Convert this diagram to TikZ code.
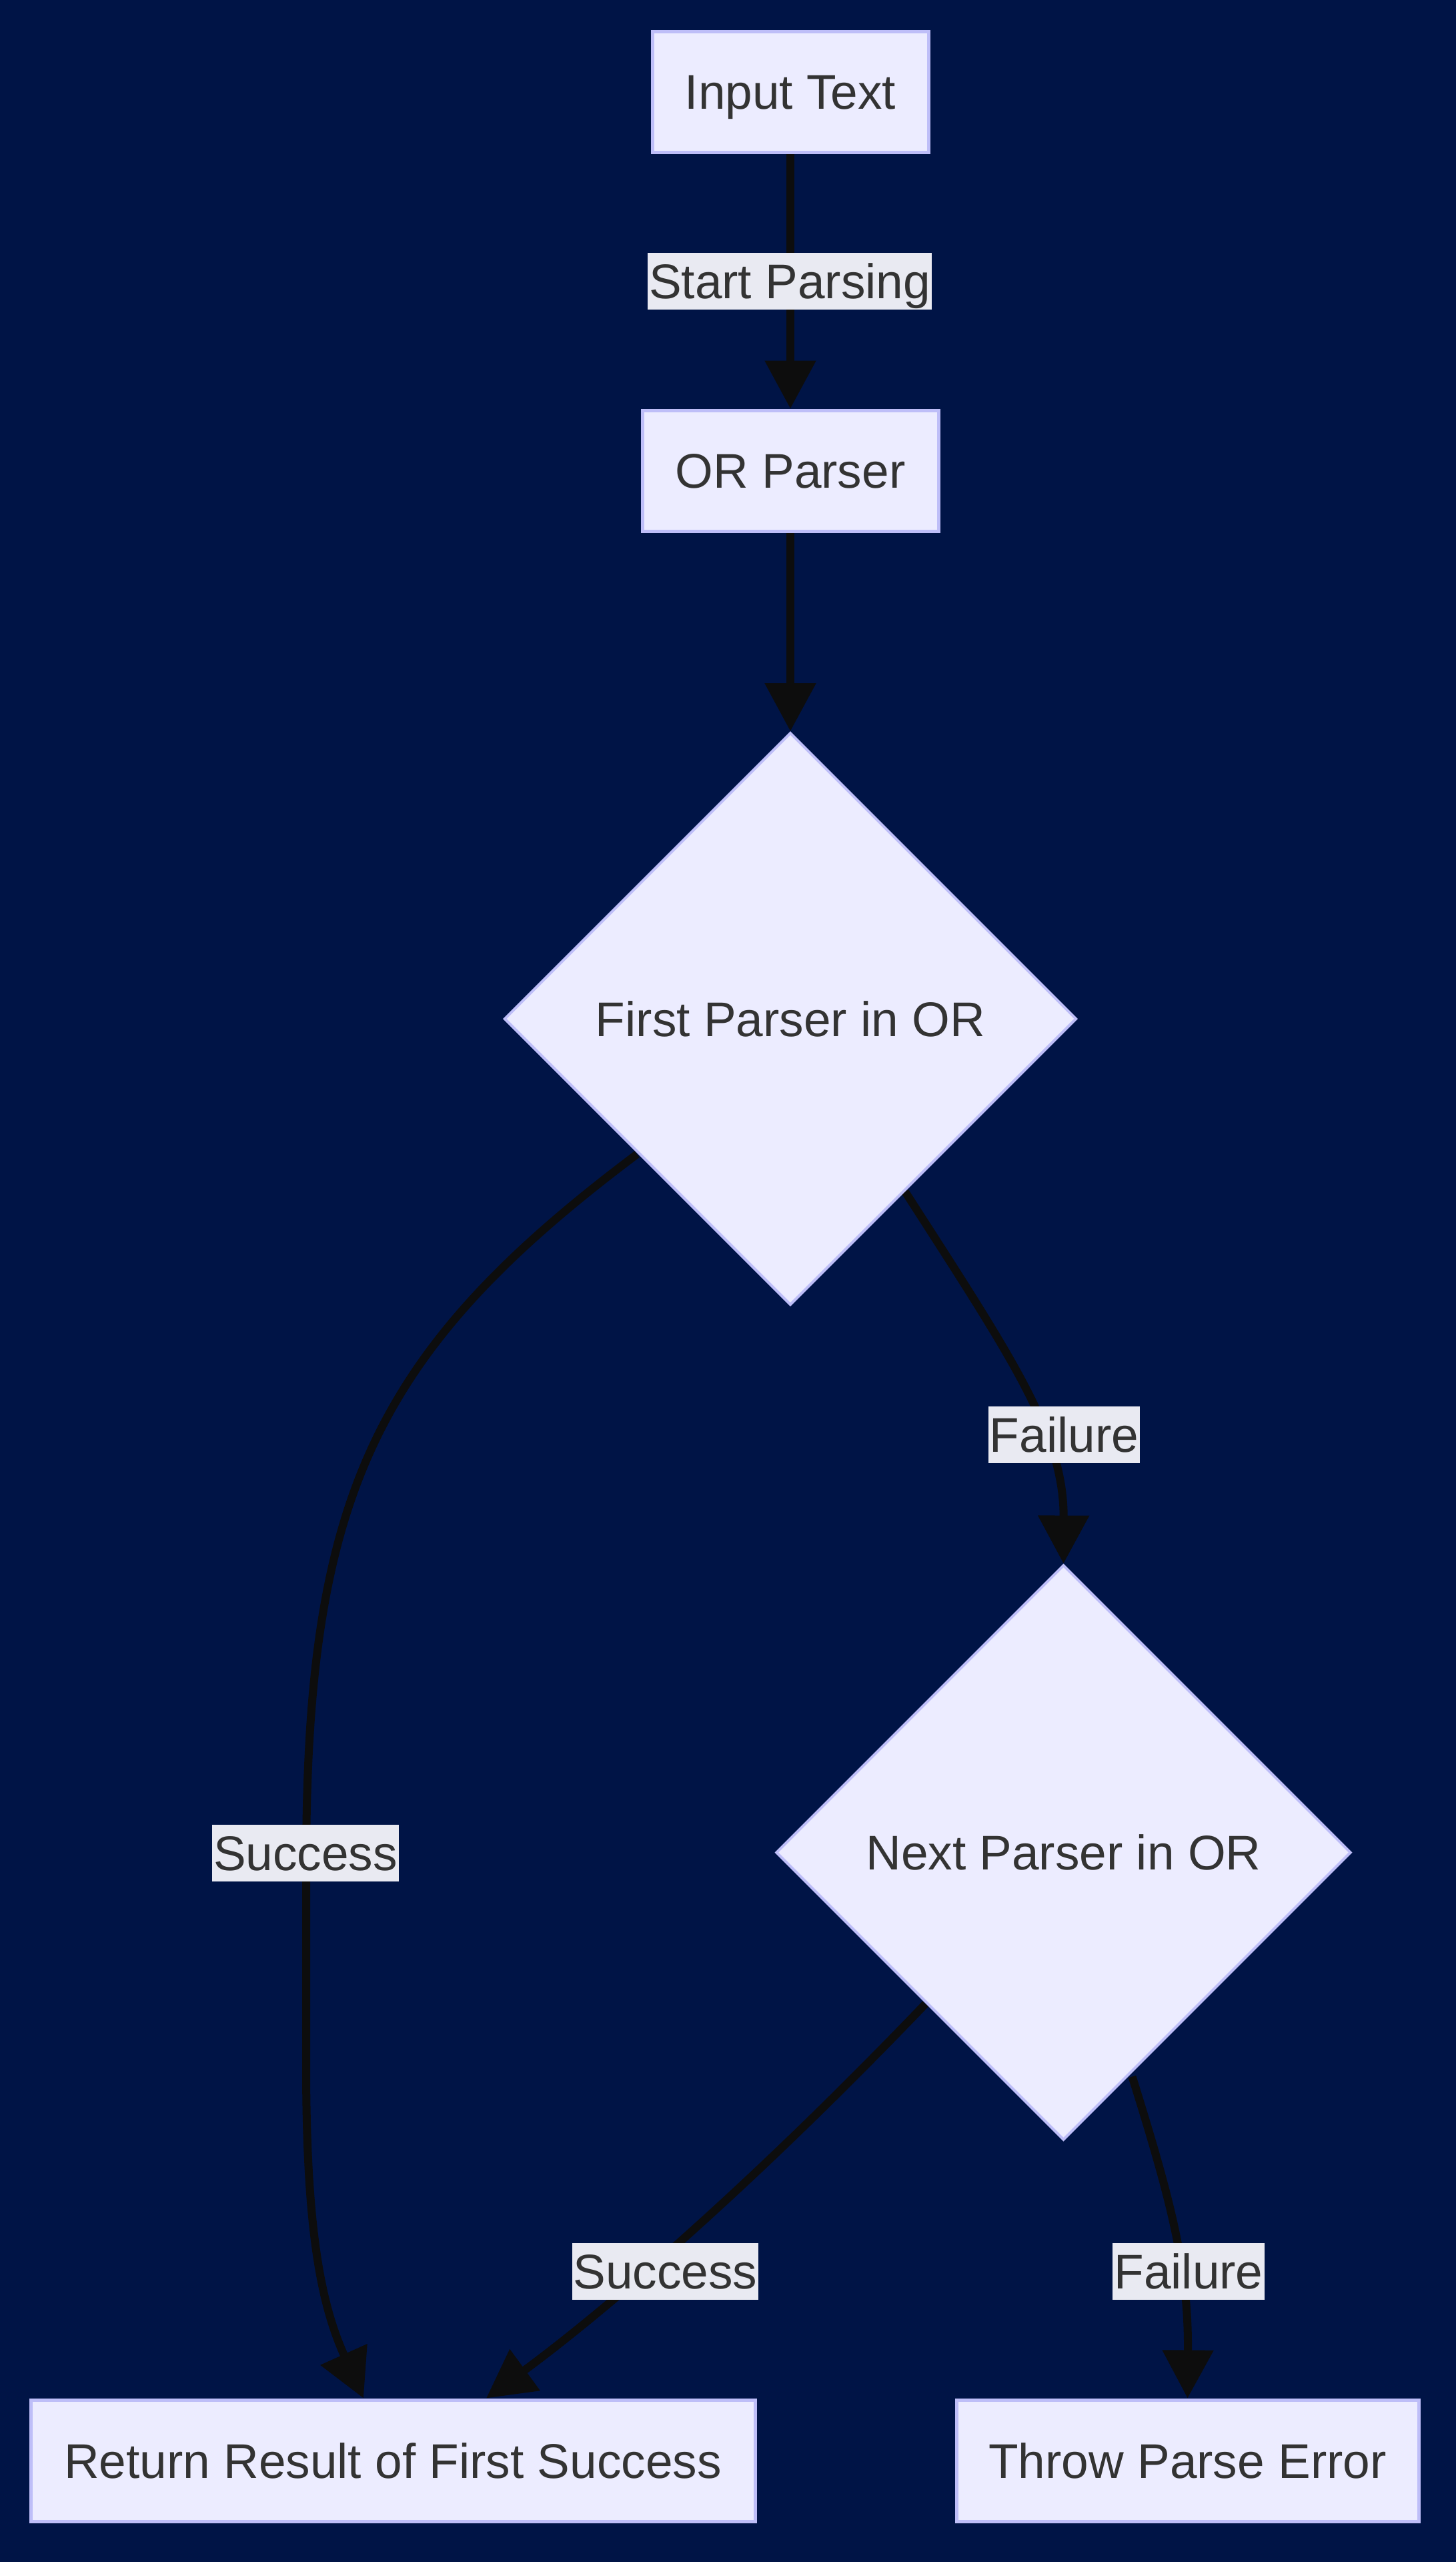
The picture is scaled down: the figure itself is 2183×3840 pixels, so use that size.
\documentclass[tikz,border=0pt]{standalone}
\usepackage{fontspec}
\setmainfont{Liberation Sans}
\usetikzlibrary{shapes.geometric,arrows.meta,calc}
\definecolor{bgc}{RGB}{0,20,70}
\definecolor{nodefill}{RGB}{236,236,255}
\definecolor{nodeborder}{RGB}{190,190,248}
\definecolor{lblfill}{RGB}{233,234,242}
\definecolor{txt}{RGB}{51,51,51}
\definecolor{edgec}{RGB}{13,13,13}
\newcommand\dgfont{\fontsize{36.5pt}{44pt}\selectfont}
\pgfdeclarelayer{bglayer}
\pgfdeclarelayer{edgelayer}
\pgfsetlayers{bglayer,edgelayer,main}
\begin{document}
\begin{tikzpicture}[x=0.5pt,y=-0.5pt,
  box/.style={draw=nodeborder, fill=nodefill, line width=2.5pt, text=txt, font=\dgfont,
    minimum height=90.5pt, inner sep=0pt, text height=26pt, text depth=0pt},
  dia/.style={diamond, aspect=1, draw=nodeborder, fill=nodefill, line width=2pt, text=txt,
    font=\dgfont, inner sep=0pt, text height=26pt, text depth=0pt},
  lbl/.style={fill=lblfill, text=txt, font=\dgfont, inner xsep=1pt, inner ysep=0pt,
    minimum height=42.5pt, text height=26pt, text depth=0pt},
  edge/.style={draw=edgec, line width=6pt, -{Triangle[length=36pt,width=37pt]}}
]
\begin{pgfonlayer}{bglayer}
\fill[bgc] (0,0) rectangle (2183,3840);
\end{pgfonlayer}
\useasboundingbox (0,0) rectangle (2183,3840);

\node[box, minimum width=207pt] (in) at (1185,137.5) {Input Text};
\node[box, minimum width=222pt] (orp) at (1185,705.5) {OR Parser};
\node[dia, minimum width=429pt, minimum height=429pt] (d1) at (1185,1527) {First Parser in OR};
\node[dia, minimum width=431pt, minimum height=431pt] (d2) at (1594.5,2776.5) {Next Parser in OR};
\node[box, minimum width=543pt, minimum height=91pt] (ret) at (589,3688) {Return Result of First Success};
\node[box, minimum width=346.5pt, minimum height=91pt] (thr) at (1780.5,3688) {Throw Parse Error};

\begin{pgfonlayer}{edgelayer}
\draw[edge] (in.south) -- (orp.north);
\draw[edge] (orp.south) -- (d1.north);
\draw[edge] ($(d1.center)+(-230,203)$) .. controls (555,2030) and (459,2250) .. (459,2800)
  -- (459,3096) .. controls (459,3350) and (483,3457) .. ($(ret.north)+(-44,0)$);
\draw[edge] ($(d1.center)+(172,259)$) .. controls (1519,2038) and (1595,2150) .. (d2.north);
\draw[edge] ($(d2.center)+(-207,227)$) .. controls (1111,3292) and (891,3476) .. ($(ret.north)+(140,0)$);
\draw[edge] ($(d2.center)+(103,336)$) .. controls (1757,3303) and (1782,3400) .. (thr.north);
\end{pgfonlayer}

\node[lbl] (l1) at (1184,421) {Start Parsing};
\node[lbl] (l2) at (458,2777) {Success};
\node[lbl] (l3) at (1595.5,2150.5) {Failure};
\node[lbl] (l4) at (997.5,3404) {Success};
\node[lbl] (l5) at (1782,3404.5) {Failure};
\end{tikzpicture}
\end{document}
